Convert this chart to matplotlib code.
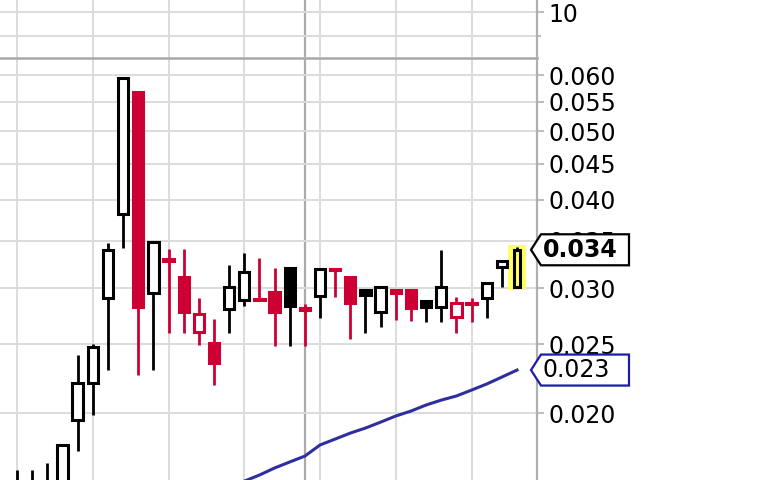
import matplotlib
matplotlib.use('Agg')
import matplotlib.pyplot as plt
from matplotlib.patches import Rectangle, Polygon
from matplotlib.transforms import IdentityTransform
import matplotlib.ticker as mticker
import numpy as np

# ---- data ----
opens = [0.0150, 0.0152, 0.0153, 0.0158, 0.01955, 0.02205, 0.02907, 0.0382, 0.0568, 0.02954,
         0.0330, 0.03112, 0.02602, 0.02511, 0.02804, 0.02888, 0.0290, 0.02964, 0.03205, 0.0281,
         0.02925, 0.0319, 0.03112, 0.02983, 0.02777, 0.02983, 0.02983, 0.02878, 0.02823, 0.02732,
         0.0286, 0.02907, 0.03215, 0.03012]
highs = [0.0166, 0.0166, 0.0170, 0.0181, 0.02415, 0.02503, 0.03475, 0.0596, 0.0568, 0.03487,
         0.03408, 0.03408, 0.02907, 0.02715, 0.03236, 0.03364, 0.0331, 0.03205, 0.03205, 0.0285,
         0.03194, 0.0319, 0.03112, 0.02983, 0.03012, 0.02983, 0.02983, 0.02878, 0.03397, 0.02916,
         0.02907, 0.03052, 0.03278, 0.0343]
lows = [0.0146, 0.0148, 0.0150, 0.0155, 0.01768, 0.01987, 0.02300, 0.0342, 0.02263, 0.02300,
        0.02594, 0.02594, 0.02495, 0.02191, 0.02594, 0.02832, 0.0288, 0.02487, 0.02487, 0.02487,
        0.02724, 0.02916, 0.02544, 0.02594, 0.02645, 0.02706, 0.02697, 0.02688, 0.02688, 0.02594,
        0.02688, 0.02724, 0.03012, 0.0301]
closes = [0.0156, 0.0158, 0.0159, 0.0180, 0.02205, 0.02478, 0.03397, 0.0594, 0.02823, 0.03487,
          0.0328, 0.02777, 0.02759, 0.02353, 0.03012, 0.03163, 0.0289, 0.02777, 0.02832, 0.0280,
          0.03194, 0.0318, 0.0286, 0.02935, 0.03012, 0.02954, 0.02814, 0.02823, 0.03012, 0.0286,
          0.0285, 0.03052, 0.03278, 0.0340]
ma_start = 15
ma_values = [0.01603, 0.01635, 0.01673, 0.01706, 0.01739, 0.01803, 0.01838, 0.01874, 0.01905,
             0.01942, 0.01981, 0.02013, 0.02053, 0.02086, 0.02114, 0.02155, 0.02198, 0.02248, 0.0230]
price_ticks = [0.020, 0.025, 0.030, 0.035, 0.040, 0.045, 0.050, 0.055, 0.060]
week_lines = [0, 5, 10, 15, 20, 25, 30]
month_line = 19
last_close_label = "0.034"
ma_label = "0.023"
top_ticks = [10]
top_grid = [5, 10]

RED = '#cc0033'
BLACK = '#000000'
GRID = '#dcdcdc'
AXIS = '#b0b0b0'
BLUE = '#2e2e9e'
TAGBLUE = '#1c1ca8'
YELLOW = '#ffff66'
FONT = 17

fig = plt.figure(figsize=(7.68, 4.8), dpi=100)
W, H = 768.0, 480.0
ax = fig.add_axes([0, 0, 537 / W, 422 / H])
axt = fig.add_axes([0, 423 / H, 537 / W, 57 / H])

n = len(closes)
xlim = (-1.122, 34.32)

for a in (ax, axt):
    a.set_xlim(*xlim)
    a.set_xticks(week_lines)
    a.tick_params(axis='x', length=0, labelbottom=False)
    a.xaxis.grid(True, color=GRID, lw=1.4, zorder=0)
    a.axvline(month_line, color='#ababab', lw=1.6, zorder=0.5)
    for s in ('left', 'bottom'):
        a.spines[s].set_visible(False)
    a.spines['right'].set_color(AXIS)
    a.spines['right'].set_linewidth(1.6)
    a.yaxis.tick_right()
    a.tick_params(axis='y', which='both', direction='out', length=5, width=1.2,
                  color=AXIS, pad=3, labelsize=FONT, labelcolor='black')
    a.set_axisbelow(True)

axt.spines['top'].set_visible(False)
ax.spines['top'].set_color('#a8a8a8')
ax.spines['top'].set_linewidth(1.8)

# ---- main price panel ----
ax.set_yscale('log')
ax.set_ylim(0.01609, 0.06341)
ax.yaxis.set_major_locator(mticker.FixedLocator(price_ticks))
ax.yaxis.set_major_formatter(mticker.FixedFormatter(['%.3f' % t for t in price_ticks]))
ax.yaxis.set_minor_locator(mticker.NullLocator())
ax.yaxis.grid(True, color=GRID, lw=1.4, zorder=0)

w = 0.68
lw_body = 2.2
for i in range(n):
    o, h, l, c = opens[i], highs[i], lows[i], closes[i]
    prev = closes[i - 1] if i > 0 else c
    col = RED if c < prev else BLACK
    hollow = c > o
    last = (i == n - 1)
    bw = 0.46 if last else w
    if last:
        ax.add_patch(Rectangle((i - 0.6, l * 0.99), 1.2, h * 1.006 - l * 0.99,
                               facecolor=YELLOW, edgecolor='none', zorder=1.5))
    ax.plot([i, i], [l, h], color=col, lw=2.0, solid_capstyle='butt', zorder=2)
    face = (YELLOW if last else 'white') if hollow else col
    ax.add_patch(Rectangle((i - bw / 2, min(o, c)), bw, abs(c - o),
                           facecolor=face, edgecolor=col, lw=lw_body, zorder=3,
                           joinstyle='miter'))

ma_x = np.arange(ma_start, ma_start + len(ma_values))
ax.plot(ma_x, ma_values, color=BLUE, lw=2.2, zorder=4)

# ---- top panel ----
axt.set_ylim(0.625, 12.5)
axt.yaxis.set_major_locator(mticker.FixedLocator(top_ticks))
axt.yaxis.set_minor_locator(mticker.FixedLocator(top_grid))
axt.yaxis.grid(True, which='both', color=GRID, lw=1.4, zorder=0)
axt.tick_params(axis='y', which='minor', length=3)

# ---- value tags on the price axis ----
fig.canvas.draw()


def tag(value, text, edge, bold):
    yc = ax.transData.transform((0, value))[1]
    hh = 15.5
    verts = [(531, yc), (541, yc + hh), (629, yc + hh), (629, yc - hh), (541, yc - hh)]
    fig.add_artist(Polygon(verts, closed=True, facecolor='white', edgecolor=edge,
                           lw=1.6, transform=IdentityTransform(), zorder=5))
    fig.add_artist(plt.Text(543, yc, text, transform=IdentityTransform(), va='center',
                            ha='left', fontsize=FONT, color='black',
                            fontweight='bold' if bold else 'normal', zorder=6))


tag(closes[-1], last_close_label, BLACK, True)
tag(ma_values[-1], ma_label, TAGBLUE, False)

fig.savefig('out.png', dpi=100)
